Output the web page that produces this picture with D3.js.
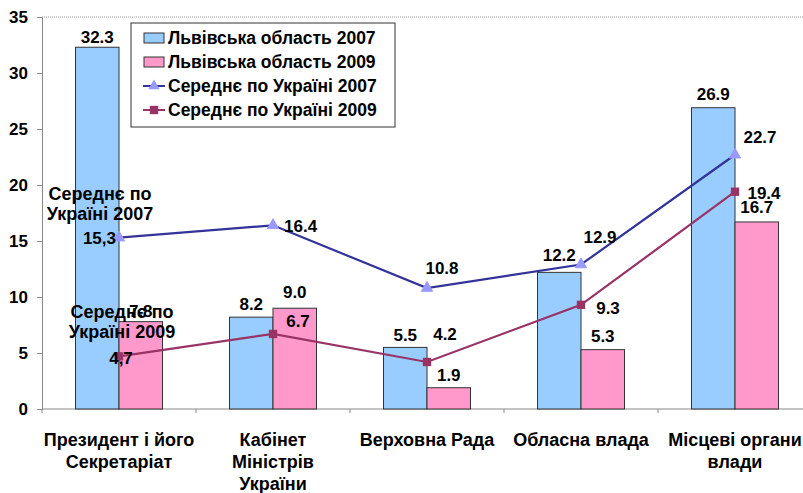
<!DOCTYPE html>
<html><head><meta charset="utf-8">
<script src="https://cdn.jsdelivr.net/npm/d3@7/dist/d3.min.js"></script>
<style>
html,body{margin:0;padding:0;background:#fff;}
svg{display:block;}
text{font-family:"Liberation Sans",Arial,sans-serif;font-weight:bold;fill:#000;}
</style></head>
<body>
<svg id="chart" width="803" height="493"></svg>
<script>
const categories = [["Президент і його","Секретаріат"],["Кабінет","Міністрів","України"],["Верховна Рада"],["Обласна влада"],["Місцеві органи","влади"]];
const seriesNames = ["Львівська область 2007","Львівська область 2009","Середнє по Україні 2007","Середнє по Україні 2009"];
const lviv2007 = [32.3, 8.2, 5.5, 12.2, 26.9];
const lviv2009 = [7.8, 9.0, 1.9, 5.3, 16.7];
const ukr2007 = [15.3, 16.4, 10.8, 12.9, 22.7];
const ukr2009 = [4.7, 6.7, 4.2, 9.3, 19.4];
const yTicks = [0,5,10,15,20,25,30,35];

// label placements for line series (layout, not data)
const place2007 = [[-3,6,"end"],[11,7,"start"],[15,-14,"middle"],[19,-22,"middle"],[25,-12,"middle"]];
const place2009 = [[2,8,"middle"],[25,-7,"middle"],[18,-22,"middle"],[27,9,"middle"],[29,7,"middle"]];
const barLblGap1 = [4,7,6,11,8];
const barLblGap2 = [5,10,7,8,9];

const svg = d3.select("#chart");
const x = d3.scaleBand().domain(d3.range(categories.length)).range([42, 812]).padding(0);
const y = d3.scaleLinear().domain([0, 35]).range([409, 17]);
const bw = 43.5;
const cx = i => x(i) + x.bandwidth()/2;

// plot area top dotted border
svg.append("line").attr("x1",42).attr("x2",803).attr("y1",y(35)).attr("y2",y(35))
  .attr("stroke","#999").attr("stroke-dasharray","1,1");

// axes
const yAxis = svg.append("g").attr("transform","translate(42,0)")
  .call(d3.axisLeft(y).tickValues(yTicks).tickSize(5).tickFormat(d3.format("d")));
yAxis.select(".domain").attr("stroke","#888");
yAxis.selectAll(".tick line").attr("stroke","#888");
yAxis.selectAll(".tick text").attr("x",-14).attr("dy","0.35em")
  .style("font-size","17px").style("font-family","'Liberation Sans',Arial,sans-serif").style("font-weight","bold");

svg.append("line").attr("x1",42).attr("x2",803).attr("y1",y(0)).attr("y2",y(0)).attr("stroke","#888");
svg.append("g").selectAll("line").data(d3.range(categories.length+1)).join("line")
  .attr("x1",i=>42+i*x.bandwidth()).attr("x2",i=>42+i*x.bandwidth())
  .attr("y1",y(0)).attr("y2",y(0)+4).attr("stroke","#888");

// bars
const bars = svg.append("g");
bars.selectAll("rect.b1").data(lviv2007).join("rect").attr("class","b1")
  .attr("x",(d,i)=>cx(i)-bw).attr("y",d=>y(d)).attr("width",bw).attr("height",d=>y(0)-y(d))
  .attr("fill","#99ccff").attr("stroke","#333").attr("stroke-width",1);
bars.selectAll("rect.b2").data(lviv2009).join("rect").attr("class","b2")
  .attr("x",(d,i)=>cx(i)).attr("y",d=>y(d)).attr("width",bw).attr("height",d=>y(0)-y(d))
  .attr("fill","#ff99cc").attr("stroke","#333").attr("stroke-width",1);

// lines
const line = d3.line().x((d,i)=>cx(i)).y(d=>y(d));
svg.append("path").datum(ukr2007).attr("d",line).attr("fill","none").attr("stroke","#333399").attr("stroke-width",2.2);
svg.append("path").datum(ukr2009).attr("d",line).attr("fill","none").attr("stroke","#993366").attr("stroke-width",2.2);
const tri = d3.symbol().type(d3.symbolTriangle).size(55);
const sq = d3.symbol().type(d3.symbolSquare).size(70);
svg.append("g").selectAll("path").data(ukr2007).join("path").attr("d",tri)
  .attr("transform",(d,i)=>`translate(${cx(i)},${y(d)})`).attr("fill","#9999ff").attr("stroke","#9999ff");
svg.append("g").selectAll("path").data(ukr2009).join("path").attr("d",sq)
  .attr("transform",(d,i)=>`translate(${cx(i)},${y(d)})`).attr("fill","#993366");

const f1 = d3.format(".1f");
const fc = v => f1(v).replace(".",",");
const lbl = svg.append("g").style("font-size","17px");
// bar labels
lbl.selectAll("text.l1").data(lviv2007).join("text").attr("class","l1")
  .attr("x",(d,i)=>cx(i)-bw/2).attr("y",(d,i)=>y(d)-barLblGap1[i]).attr("text-anchor","middle").text(d=>f1(d));
lbl.selectAll("text.l2").data(lviv2009).join("text").attr("class","l2")
  .attr("x",(d,i)=>cx(i)+bw/2).attr("y",(d,i)=>y(d)-barLblGap2[i]).attr("text-anchor","middle").text(d=>f1(d));
// line labels
lbl.selectAll("text.l3").data(ukr2007).join("text").attr("class","l3")
  .attr("x",(d,i)=>cx(i)+place2007[i][0]).attr("y",(d,i)=>y(d)+place2007[i][1])
  .attr("text-anchor",(d,i)=>place2007[i][2]).text((d,i)=>i===0?fc(d):f1(d));
lbl.selectAll("text.l4").data(ukr2009).join("text").attr("class","l4")
  .attr("x",(d,i)=>cx(i)+place2009[i][0]).attr("y",(d,i)=>y(d)+place2009[i][1])
  .attr("text-anchor",(d,i)=>place2009[i][2]).text((d,i)=>i===0?fc(d):f1(d));
// series name labels on first point
function nameLabel(name, xc, ytop){
  const parts = [name.split(" ").slice(0,2).join(" "), name.split(" ").slice(2).join(" ")];
  lbl.append("text").attr("x",xc).attr("y",ytop).attr("text-anchor","middle").style("font-size","18px")
    .selectAll("tspan").data(parts).join("tspan").attr("x",xc).attr("dy",(d,i)=>i?20:0).text(d=>d);
}
nameLabel(seriesNames[2], 100, y(ukr2007[0]) - 38);
nameLabel(seriesNames[3], 122, y(ukr2009[0]) - 38);

// x labels
const xl = svg.append("g").style("font-size","18px");
categories.forEach((lines,i)=>{
  const t = xl.append("text").attr("text-anchor","middle").attr("x",cx(i)).attr("y",446);
  t.selectAll("tspan").data(lines).join("tspan").attr("x",cx(i)).attr("dy",(d,j)=>j?22:0).text(d=>d);
});

// legend
const lg = svg.append("g");
lg.append("rect").attr("x",131).attr("y",23).attr("width",264).attr("height",104)
  .attr("fill","#fff").attr("stroke","#333").attr("stroke-width",1);
const rows = [38,62,86,110];
seriesNames.forEach((n,i)=>{
  const ry = rows[i];
  if(i<2){
    lg.append("rect").attr("x",144).attr("y",ry-5).attr("width",20).attr("height",10)
      .attr("fill",i===0?"#99ccff":"#ff99cc").attr("stroke","#333");
  } else {
    const c = i===2?"#333399":"#993366";
    lg.append("line").attr("x1",143).attr("x2",165).attr("y1",ry).attr("y2",ry).attr("stroke",c).attr("stroke-width",2);
    lg.append("path").attr("d",i===2?tri:sq).attr("transform",`translate(154,${ry})`)
      .attr("fill",i===2?"#9999ff":"#993366");
  }
  lg.append("text").attr("x",168).attr("y",ry+6).style("font-size","17.5px").text(n);
});
</script>
</body></html>
